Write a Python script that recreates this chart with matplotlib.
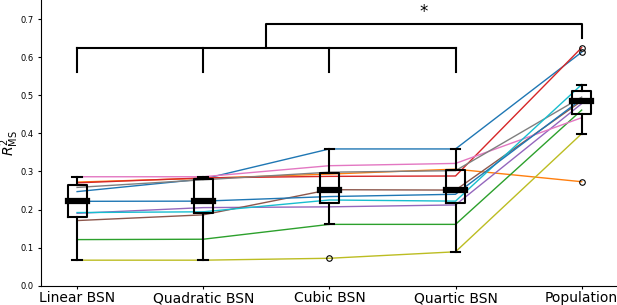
import matplotlib
matplotlib.use('Agg')
import matplotlib.pyplot as plt
import numpy as np

models = ['Linear BSN', 'Quadratic BSN', 'Cubic BSN', 'Quartic BSN', 'Population']

# one row per subject, one value per model (R^2 MS)
s_blue1 = [0.247, 0.280, 0.359, 0.359, 0.613]
s_orange = [0.272, 0.282, 0.293, 0.306, 0.273]
s_green = [0.121, 0.122, 0.161, 0.161, 0.461]
s_red = [0.270, 0.283, 0.287, 0.288, 0.625]
s_purple = [0.190, 0.205, 0.207, 0.212, 0.478]
s_brown = [0.171, 0.186, 0.252, 0.251, 0.485]
s_pink = [0.286, 0.286, 0.315, 0.321, 0.441]
s_gray = [0.258, 0.278, 0.298, 0.302, 0.495]
s_olive = [0.067, 0.067, 0.072, 0.089, 0.399]
s_cyan = [0.192, 0.194, 0.225, 0.222, 0.528]
s_blue2 = [0.2215, 0.222, 0.234, 0.240, 0.490]

subjects = [s_blue1, s_orange, s_green, s_red, s_purple, s_brown,
            s_pink, s_gray, s_olive, s_cyan, s_blue2]

data = np.array(subjects)
pos = np.arange(1, len(models) + 1)

fig = plt.figure(figsize=(6.17, 3.05), dpi=100)
ax = fig.add_axes([41 / 617, 19.3 / 305, 1 - 41 / 617, 285.7 / 305])

for i, row in enumerate(data):
    ax.plot(pos, row, color='C%d' % (i % 10), lw=1, zorder=1)

ax.boxplot([data[:, j] for j in range(len(models))], positions=pos, widths=0.15,
           patch_artist=False, zorder=3,
           boxprops=dict(color='k', lw=1.5),
           whiskerprops=dict(color='k', lw=1.5),
           capprops=dict(color='k', lw=1.5),
           medianprops=dict(color='k', lw=4.5, solid_capstyle='projecting'),
           flierprops=dict(marker='o', markersize=4, markerfacecolor='none',
                           markeredgecolor='k', markeredgewidth=0.8))

# significance brackets
br = dict(color='k', lw=1.5)
ax.plot([1, 4], [0.624, 0.624], **br)
for x in pos[:4]:
    ax.plot([x, x], [0.562, 0.624], **br)
ax.plot([2.5, 2.5, 5, 5], [0.624, 0.686, 0.686, 0.65], **br)
ax.text(3.75, 0.695, '*', ha='center', va='bottom', fontsize=12)

ax.set_xlim(0.714, 5.28)
ax.set_ylim(0, 0.75)
ax.set_xticks(pos)
ax.set_xticklabels(models, fontsize=10)
ax.tick_params(axis='x', length=2.5, pad=1.5)
ax.set_yticks(np.arange(0, 0.71, 0.1))
ax.set_yticklabels(['%.1f' % v for v in np.arange(0, 0.71, 0.1)])
ax.tick_params(axis='y', labelsize=6, length=2.5, pad=3)
ax.set_ylabel(r'$R^2_{\mathrm{MS}}$', fontsize=10, va='center')
ax.yaxis.set_label_coords(-0.054, 0.5)
ax.spines['top'].set_visible(False)
ax.spines['right'].set_visible(False)

fig.savefig('out.png', dpi=100)
